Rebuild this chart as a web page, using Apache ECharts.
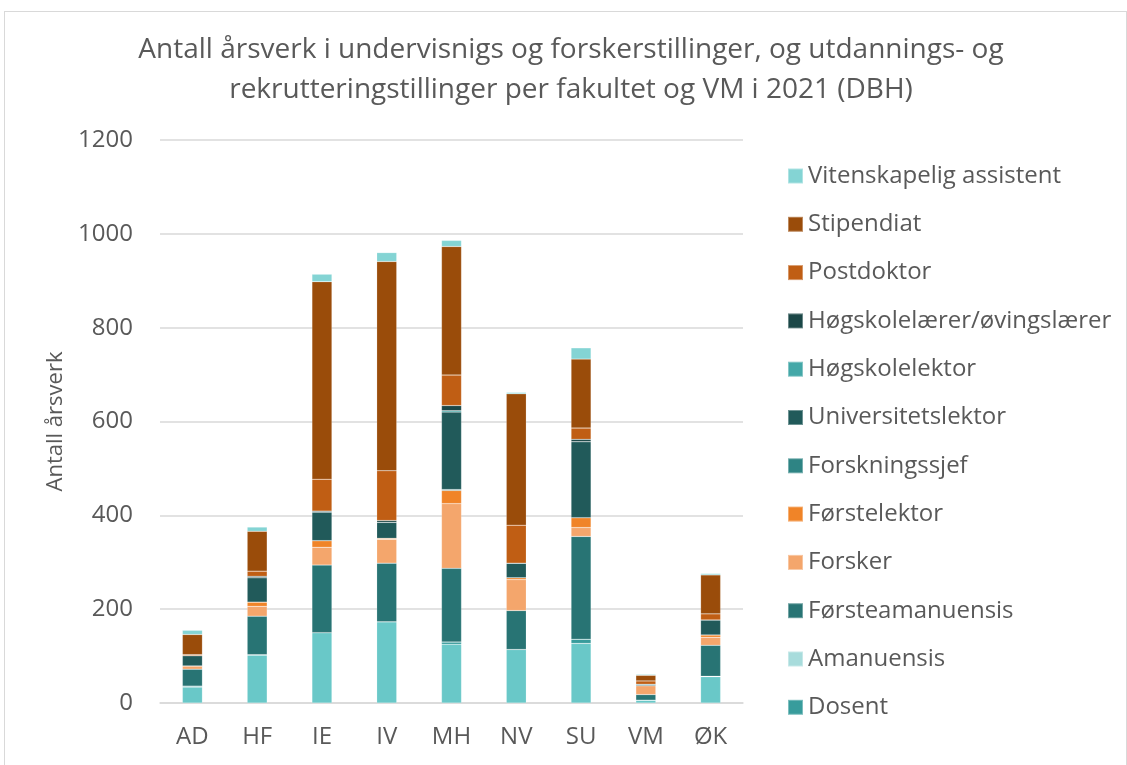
<!DOCTYPE html>
<html>
<head>
<meta charset="utf-8">
<script src="https://cdn.jsdelivr.net/npm/echarts@6/dist/echarts.min.js"></script>
<style>
  html, body { margin: 0; padding: 0; background: #fff; }
  #chart { width: 1127px; height: 765px; }
  .frame {
    position: absolute; left: 4px; top: 11px; width: 1121px; height: 760px;
    border: 1px solid #d9d9d9; pointer-events: none;
  }
</style>
</head>
<body>
<div id="chart"></div>
<div class="frame"></div>
<script>
// fakulteter
const categories = ['AD', 'HF', 'IE', 'IV', 'MH', 'NV', 'SU', 'VM', 'ØK']

// årsverk per stillingskategori (lest av figuren)
const professor = [34, 102, 150, 173, 125, 114, 127, 6, 56]
const dosent = [2, 1, 0, 0, 5, 0, 9, 0, 1]
const amanuensis = [0, 0, 0, 0, 0, 0, 0, 0, 0]
const forsteamanuensis = [36, 82, 144, 125, 157, 83, 219, 12, 66]
const forsker = [7, 21, 38, 51, 138, 66, 19, 19, 17]
const forstelektor = [0, 9, 14, 2, 28, 4, 21, 0, 5]
const forskningssjef = [0, 0, 0, 0, 2, 0, 0, 0, 0]
const universitetslektor = [22, 52, 61, 34, 165, 31, 162, 3, 32]
const hogskolelektor = [0, 0, 0, 0, 3, 0, 0, 0, 0]
const hogskolelaerer = [0, 3, 2, 4, 11, 0, 5, 0, 0]
const postdoktor = [2, 11, 68, 106, 65, 81, 24, 7, 13]
const stipendiat = [43, 85, 421, 446, 274, 280, 147, 12, 83]
const vitAssistent = [9, 9, 16, 19, 13, 3, 24, 2, 3]

const yTicks = { min: 0, max: 1200, interval: 200 }

const seriesDefs = [
  { name: 'Professor', data: professor, color: '#69c8c8' },
  { name: 'Dosent', data: dosent, color: '#389c9c' },
  { name: 'Amanuensis', data: amanuensis, color: '#a8dcdc' },
  { name: 'Førsteamanuensis', data: forsteamanuensis, color: '#287474' },
  { name: 'Forsker', data: forsker, color: '#f4a66c' },
  { name: 'Førstelektor', data: forstelektor, color: '#f08428' },
  { name: 'Forskningssjef', data: forskningssjef, color: '#2e8484' },
  { name: 'Universitetslektor', data: universitetslektor, color: '#215a5a' },
  { name: 'Høgskolelektor', data: hogskolelektor, color: '#44a8a8' },
  { name: 'Høgskolelærer/øvingslærer', data: hogskolelaerer, color: '#1b4747' },
  { name: 'Postdoktor', data: postdoktor, color: '#c05e14' },
  { name: 'Stipendiat', data: stipendiat, color: '#9a4c0a' },
  { name: 'Vitenskapelig assistent', data: vitAssistent, color: '#84d4d4' }
]

// legend viser ikke professor, og står i omvendt rekkefølge
const legendNames = seriesDefs.slice(1).map(s => s.name).reverse()

const textColor = '#595959'
const font = '"Open Sans", "Noto Sans", sans-serif'

const chart = echarts.init(document.getElementById('chart'))

chart.setOption({
  animation: false,
  textStyle: { fontFamily: font },
  title: {
    text: 'Antall årsverk i undervisnigs og forskerstillinger, og utdannings- og\nrekrutteringstillinger per fakultet og VM i 2021 (DBH)',
    left: 571,
    textAlign: 'center',
    top: 30,
    padding: 0,
    textStyle: {
      fontFamily: font,
      fontSize: 28,
      fontWeight: 'normal',
      color: textColor,
      lineHeight: 40
    }
  },
  legend: {
    orient: 'vertical',
    left: 787,
    top: 162,
    padding: 0,
    data: legendNames,
    icon: 'rect',
    itemWidth: 15,
    itemHeight: 15,
    itemGap: 20.3,
    textStyle: { fontFamily: font, fontSize: 24, color: textColor, lineHeight: 28, padding: [0, 0, 0, 0] }
  },
  grid: {
    left: 160,
    right: 384,
    top: 140,
    bottom: 62
  },
  xAxis: {
    type: 'category',
    data: categories,
    axisTick: { show: false },
    axisLine: { lineStyle: { color: '#d9d9d9', width: 1.5 } },
    axisLabel: { fontSize: 24, color: textColor, margin: 22, fontFamily: font }
  },
  yAxis: {
    type: 'value',
    min: yTicks.min,
    max: yTicks.max,
    interval: yTicks.interval,
    name: 'Antall årsverk',
    nameLocation: 'middle',
    nameGap: 92,
    nameTextStyle: { fontSize: 22, color: textColor, fontFamily: font },
    axisLine: { show: false },
    axisTick: { show: false },
    axisLabel: {
      fontSize: 24,
      color: textColor,
      margin: 27,
      fontFamily: font,
      formatter: v => String(v)
    },
    splitLine: { lineStyle: { color: '#d9d9d9', width: 1.5 } }
  },
  series: seriesDefs.map(s => ({
    name: s.name,
    type: 'bar',
    stack: 'total',
    barWidth: 20,
    data: s.data,
    itemStyle: {
      color: s.color,
      borderColor: 'rgba(255,255,255,0.35)',
      borderWidth: 0.5
    }
  }))
})
</script>
</body>
</html>
